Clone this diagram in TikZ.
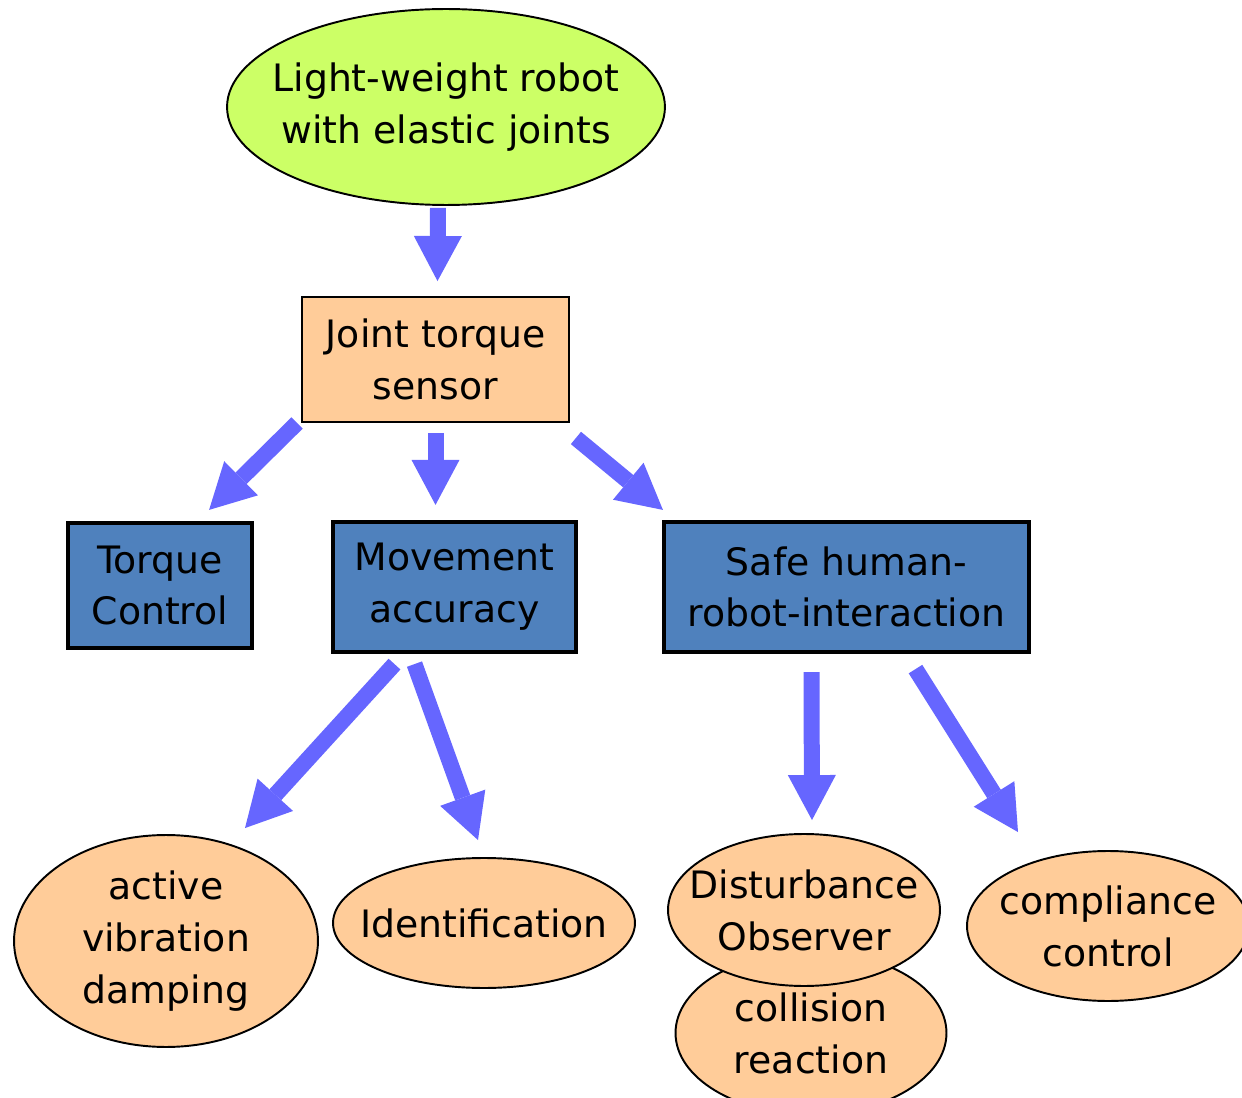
\documentclass[tikz,border=0pt]{standalone}
\usepackage{fontspec}
\setmainfont{DejaVu Sans}
\usetikzlibrary{shapes.geometric,arrows.meta,calc}
\definecolor{lime}{HTML}{CCFF66}
\definecolor{peach}{HTML}{FFCC99}
\definecolor{boxblue}{HTML}{4F81BD}
\definecolor{arrowblue}{HTML}{6666FF}
\begin{document}
\begin{tikzpicture}[x=0.02cm,y=-0.02cm,
  every node/.style={font=\fontsize{21.5}{29.5}\selectfont,align=center},
  oval/.style={ellipse,draw,line width=1.1pt,fill=peach,inner sep=-0.4cm},
  sensorbox/.style={rectangle,draw,line width=1.1pt,fill=peach,inner sep=0pt},
  block/.style={rectangle,draw,line width=2.4pt,fill=boxblue,inner sep=0pt},
  bigarrow/.style={draw=arrowblue,line width=0.32cm,
    -{Triangle[width=0.96cm,length=0.9cm,line width=0pt]}}]
 % \draw[help lines] (0,0) grid (1242,1098);
  \useasboundingbox (0,0) rectangle (1242,1098);
  \node[oval,fill=lime,minimum width=8.76cm,minimum height=3.92cm] (robot) at (446,107)
        {Light-weight robot\\with elastic joints};
  \node[sensorbox,minimum width=5.34cm,minimum height=2.5cm] (jts) at (435.5,359.5)
        {Joint torque\\sensor};
  \node[block,minimum width=3.68cm,minimum height=2.5cm] (tc) at (160,585.5) {Torque\\Control};
  \node[block,minimum width=4.86cm,minimum height=2.6cm] (ma) at (454.5,587) {Movement\\accuracy};
  \node[block,minimum width=7.3cm,minimum height=2.6cm] (safe) at (846.5,587)
        {Safe human-\\robot-interaction};
  \node[oval,minimum width=6.08cm,minimum height=4.24cm] (avd) at (166,941)
        {active\\vibration\\damping};
  \node[oval,minimum width=6.04cm,minimum height=2.6cm] (id) at (484,923) {Identification};
  \node[oval,minimum width=5.42cm,minimum height=3.26cm] (cr) at (811,1033) {collision\\reaction};
  \node[oval,minimum width=5.44cm,minimum height=3.04cm] (do) at (804,910)
        {Disturbance\\Observer};
  \node[oval,minimum width=5.64cm,minimum height=3cm] (cc) at (1108,926) {compliance\\control};
  \draw[bigarrow] ($(robot.south)+(-8,2)$) -- ($(jts.north)+(2,-15)$);
  \draw[bigarrow] ($(jts.south west)+(-4,0)$) -- ($(tc.north east)+(-45,-11)$);
  \draw[bigarrow] ($(jts.south)+(0,10)$) -- ($(ma.north)+(-19,-15)$);
  \draw[bigarrow] ($(jts.south east)+(6,15)$) -- ($(safe.north west)+(1,-10)$);
  \draw[bigarrow] ($(ma.south)+(-60,10)$) -- ($(avd.north)+(79,-6)$);
  \draw[bigarrow] ($(ma.south)+(-40,10)$) -- ($(id.north)+(-6,-17)$);
  \draw[bigarrow] ($(safe.south)+(-35,18)$) -- ($(do.north)+(8,-13)$);
  \draw[bigarrow] ($(safe.south)+(69,15)$) -- ($(cc.north)+(-90,-18)$);
\end{tikzpicture}
\end{document}
